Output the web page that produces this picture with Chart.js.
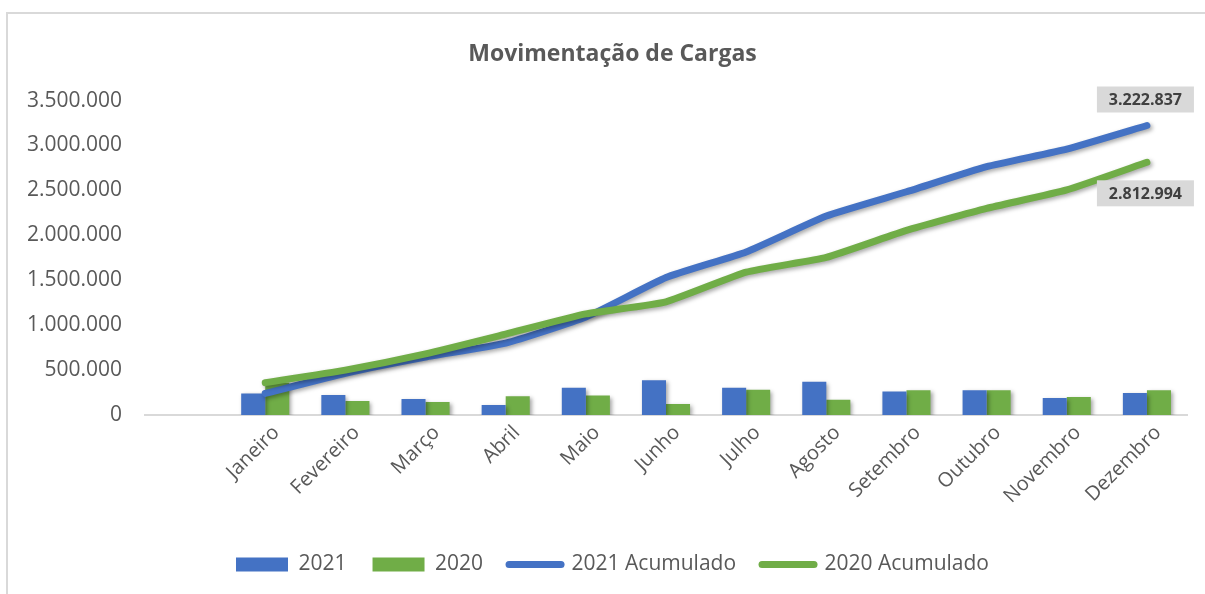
<!DOCTYPE html>
<html><head><meta charset="utf-8">
<script src="https://cdn.jsdelivr.net/npm/chart.js@4.4.0/dist/chart.umd.min.js"></script>
<style>
html,body{margin:0;padding:0;background:#fff;overflow:hidden;width:1205px;height:594px;}
#frame{position:absolute;left:6px;top:12px;width:1300px;height:700px;border-top:2px solid #d9d9d9;border-left:2px solid #d9d9d9;}
#wrap{position:absolute;left:0;top:0;width:1205px;height:594px;}
</style></head><body>
<div id="frame"></div>
<div id="wrap"><canvas id="c" width="1205" height="594"></canvas></div>
<script>
const categories = ['', 'Janeiro', 'Fevereiro', 'Março', 'Abril', 'Maio', 'Junho', 'Julho', 'Agosto', 'Setembro', 'Outubro', 'Novembro', 'Dezembro'];
const values2021 = [null, 240000, 224000, 179000, 110000, 302000, 388000, 302000, 369000, 261000, 276000, 188000, 246000];
const values2020 = [null, 360000, 157000, 145000, 209000, 216000, 123000, 280000, 171000, 276000, 276000, 201000, 276000];
const acum2021 = [null, 240000, 465000, 645000, 800000, 1090000, 1530000, 1815000, 2215000, 2485000, 2765000, 2960000, 3222837];
const acum2020 = [null, 360000, 500000, 680000, 900000, 1125000, 1260000, 1590000, 1755000, 2055000, 2300000, 2505000, 2812994];
const yTicks = [0, 500000, 1000000, 1500000, 2000000, 2500000, 3000000, 3500000];

const BLUE = '#4472C4', GREEN = '#70AD47', TXT = '#595959';
const FONT = '"Open Sans", sans-serif';
const fmt = n => String(n).replace(/\B(?=(\d{3})+(?!\d))/g, '.');

const shadowPlugin = {
  id: 'shadow',
  beforeDatasetDraw(chart) {
    const ctx = chart.ctx; ctx.save();
    ctx.shadowColor = 'rgba(0,0,0,0.35)'; ctx.shadowBlur = 4; ctx.shadowOffsetX = 2; ctx.shadowOffsetY = 2;
  },
  afterDatasetDraw(chart) { chart.ctx.restore(); }
};

const endLabels = {
  id: 'endLabels',
  afterDatasetsDraw(chart) {
    const ctx = chart.ctx;
    [[2, -26], [3, 31]].forEach(([di, dy]) => {
      const meta = chart.getDatasetMeta(di);
      const pt = meta.data[meta.data.length - 1];
      const val = chart.data.datasets[di].data[meta.data.length - 1];
      const cx = pt.x - 1.5, cy = pt.y + dy;
      ctx.save();
      ctx.fillStyle = '#d9d9d9';
      ctx.fillRect(cx - 48.5, cy - 13, 97, 26);
      ctx.fillStyle = '#404040';
      ctx.font = 'bold 16px ' + FONT;
      ctx.textAlign = 'center'; ctx.textBaseline = 'middle';
      ctx.fillText(fmt(val), cx, cy + 1);
      ctx.restore();
    });
  }
};

new Chart(document.getElementById('c'), {
  data: {
    labels: categories,
    datasets: [
      { type: 'bar', label: '2021', data: values2021, backgroundColor: BLUE, order: 2 },
      { type: 'bar', label: '2020', data: values2020, backgroundColor: GREEN, order: 2 },
      { type: 'line', label: '2021 Acumulado', data: acum2021, borderColor: BLUE, backgroundColor: BLUE, borderWidth: 7, borderCapStyle: 'round', borderJoinStyle: 'round', pointRadius: 0, tension: 0.15, order: 1 },
      { type: 'line', label: '2020 Acumulado', data: acum2020, borderColor: GREEN, backgroundColor: GREEN, borderWidth: 7, borderCapStyle: 'round', borderJoinStyle: 'round', pointRadius: 0, tension: 0.15, order: 0 }
    ]
  },
  options: {
    responsive: false,
    animation: false,
    devicePixelRatio: 1,
    layout: { padding: { left: 20, right: 0, top: 0, bottom: 9 } },
    datasets: { bar: { categoryPercentage: 0.6, barPercentage: 1.0 } },
    plugins: {
      tooltip: { enabled: false },
      title: {
        display: true, text: 'Movimentação de Cargas', color: TXT,
        font: { family: FONT, size: 23, weight: 'bold' },
        padding: { top: 41, bottom: 32 }
      },
      legend: {
        position: 'bottom',
        labels: {
          usePointStyle: true, pointStyleWidth: 52, boxHeight: 14, padding: 26,
          color: TXT, font: { family: FONT, size: 21 },
          generateLabels(chart) {
            return chart.data.datasets.map((ds, i) => {
              const isLine = ds.type === 'line';
              return {
                text: ds.label, datasetIndex: i, hidden: false,
                fillStyle: isLine ? ds.borderColor : ds.backgroundColor,
                strokeStyle: isLine ? ds.borderColor : ds.backgroundColor,
                lineWidth: isLine ? 7 : 0, lineCap: 'round',
                pointStyle: isLine ? 'line' : 'rect', fontColor: TXT
              };
            });
          }
        }
      }
    },
    scales: {
      x: {
        grid: { display: false, drawTicks: false },
        border: { display: true, color: '#d9d9d9', width: 2 },
        ticks: { color: TXT, font: { family: FONT, size: 20 }, minRotation: 45, maxRotation: 45, padding: 6, labelOffset: 11, autoSkip: false },
        afterFit(scale) { scale.height = 113; }
      },
      y: {
        min: 0, max: 3500000,
        afterBuildTicks(scale) { scale.ticks = yTicks.map(v => ({ value: v })); },
        grid: { display: false, drawTicks: false },
        border: { display: false },
        ticks: { color: TXT, font: { family: FONT, size: 21 }, padding: 23, callback: v => fmt(v) },
        afterFit(scale) { scale.width = 125; }
      },
      yRightSpace: {
        type: 'linear', position: 'right', display: true,
        grid: { display: false, drawTicks: false },
        border: { display: false },
        ticks: { display: false },
        afterFit(scale) { scale.width = 18; }
      }
    }
  },
  plugins: [shadowPlugin, endLabels]
});
</script>
</body></html>
